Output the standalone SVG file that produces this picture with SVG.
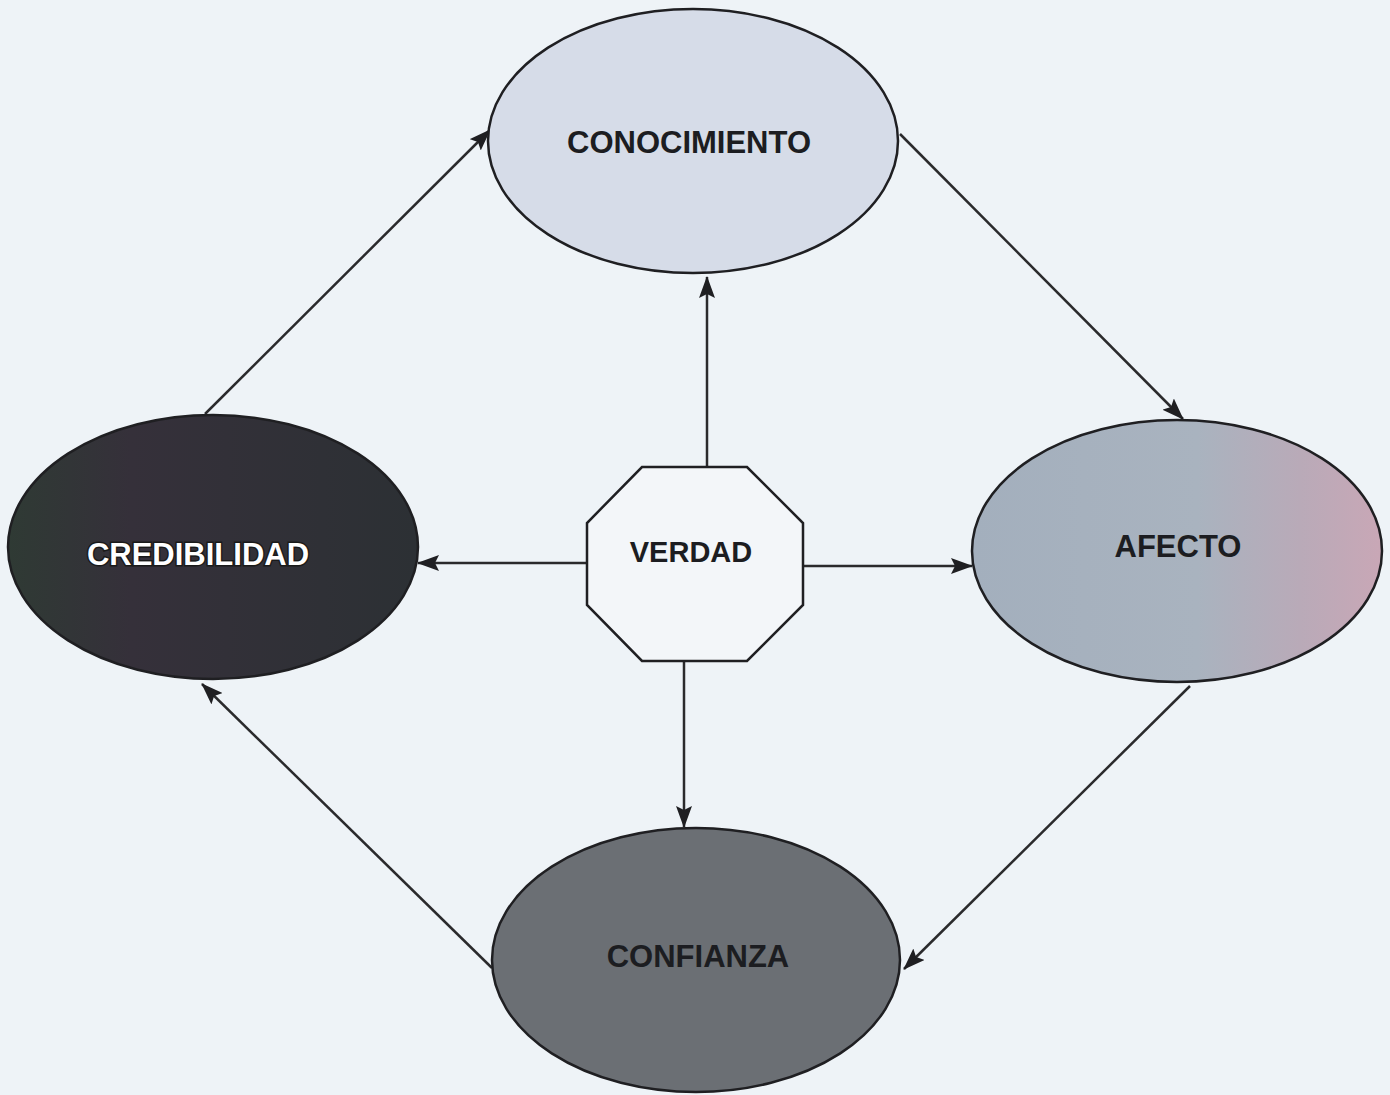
<svg xmlns="http://www.w3.org/2000/svg" width="1390" height="1095" viewBox="0 0 1390 1095">
  <style>
    .node { stroke: #1f1f22; stroke-width: 2.5; }
    .lbl { font-family: "Liberation Sans", Arial, sans-serif; font-weight: bold; font-size: 31px; text-anchor: middle; fill: #1c1d21; }
    .lbl-w { fill: #ffffff; stroke: #1a1a1a; stroke-width: 3; paint-order: stroke; }
    .conn line { stroke: #2a2a2c; stroke-width: 2.5; marker-end: url(#arrow); }
  </style>
  <defs>
    <marker id="arrow" viewBox="0 0 22 16" refX="21" refY="8" markerWidth="22" markerHeight="16" markerUnits="userSpaceOnUse" orient="auto">
      <path d="M0,0 L22,8 L0,16 L4,8 z" fill="#1f1f22"/>
    </marker>
    <linearGradient id="gAfecto" x1="0" y1="0" x2="1" y2="0">
      <stop offset="0" stop-color="#a3afbd"/>
      <stop offset="0.55" stop-color="#a9b3bf"/>
      <stop offset="0.8" stop-color="#b9aab8"/>
      <stop offset="1" stop-color="#c9a7b6"/>
    </linearGradient>
    <linearGradient id="gCred" x1="0" y1="0" x2="1" y2="0">
      <stop offset="0" stop-color="#2f3a34"/>
      <stop offset="0.3" stop-color="#35303a"/>
      <stop offset="1" stop-color="#2c3034"/>
    </linearGradient>
  </defs>
  <rect x="0" y="0" width="1390" height="1095" fill="#eef3f7"/>

  <g id="connectors" class="conn">
    <line x1="205" y1="414" x2="490" y2="130"/>
    <line x1="900" y1="134" x2="1183" y2="419"/>
    <line x1="1190" y1="686" x2="904" y2="969"/>
    <line x1="492" y1="968" x2="202" y2="684"/>
    <line x1="707" y1="467" x2="707" y2="277"/>
    <line x1="587" y1="563" x2="418" y2="563"/>
    <line x1="803" y1="566" x2="972" y2="566"/>
    <line x1="684" y1="661" x2="684" y2="827"/>
  </g>

  <g id="conocimiento">
    <ellipse class="node" cx="693" cy="141" rx="205" ry="132" fill="#d6dce8"/>
    <text class="lbl" x="689" y="153">CONOCIMIENTO</text>
  </g>

  <g id="credibilidad">
    <ellipse class="node" cx="213" cy="547" rx="205" ry="132" fill="url(#gCred)"/>
    <text class="lbl lbl-w" x="198" y="565">CREDIBILIDAD</text>
  </g>

  <g id="afecto">
    <ellipse class="node" cx="1177" cy="551" rx="205" ry="131" fill="url(#gAfecto)"/>
    <text class="lbl" x="1178" y="557">AFECTO</text>
  </g>

  <g id="confianza">
    <ellipse class="node" cx="696" cy="960" rx="204" ry="132" fill="#6b6f74"/>
    <text class="lbl" x="698" y="967">CONFIANZA</text>
  </g>

  <g id="verdad">
    <polygon class="node" points="642,467 747,467 803,523 803,605 747,661 642,661 587,605 587,523" fill="#f3f6f9"/>
    <text class="lbl" x="691" y="562" style="font-size:29px">VERDAD</text>
  </g>
</svg>
